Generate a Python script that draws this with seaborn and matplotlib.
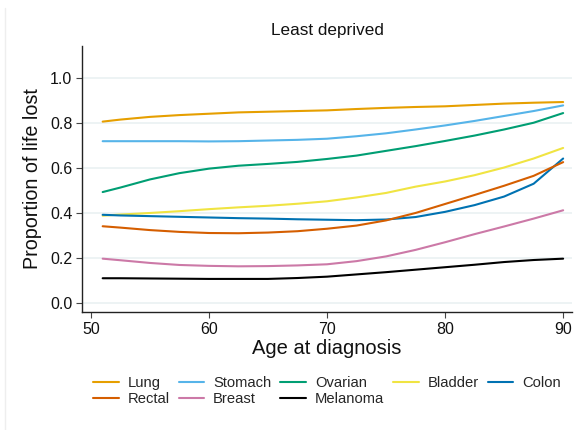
import matplotlib
matplotlib.use("Agg")
import matplotlib.pyplot as plt
import seaborn as sns
import pandas as pd
from matplotlib.lines import Line2D

ages = [51, 52.5, 55, 57.5, 60, 62.5, 65, 67.5, 70, 72.5, 75, 77.5, 80,
        82.5, 85, 87.5, 90]

lung     = [0.806, 0.815, 0.827, 0.835, 0.841, 0.847, 0.850, 0.853, 0.856,
            0.862, 0.867, 0.871, 0.874, 0.880, 0.886, 0.890, 0.893]
stomach  = [0.719, 0.719, 0.719, 0.719, 0.718, 0.719, 0.722, 0.725, 0.730,
            0.741, 0.754, 0.771, 0.789, 0.809, 0.831, 0.853, 0.878]
ovarian  = [0.493, 0.513, 0.549, 0.577, 0.597, 0.610, 0.618, 0.627, 0.640,
            0.655, 0.676, 0.697, 0.720, 0.744, 0.771, 0.801, 0.844]
bladder  = [0.388, 0.393, 0.400, 0.408, 0.417, 0.425, 0.432, 0.441, 0.452,
            0.469, 0.489, 0.517, 0.540, 0.568, 0.602, 0.642, 0.689]
colon    = [0.392, 0.389, 0.386, 0.383, 0.380, 0.377, 0.375, 0.372, 0.370,
            0.368, 0.371, 0.382, 0.405, 0.435, 0.473, 0.530, 0.642]
rectal   = [0.341, 0.335, 0.324, 0.316, 0.311, 0.310, 0.313, 0.319, 0.330,
            0.344, 0.367, 0.400, 0.440, 0.480, 0.521, 0.565, 0.626]
breast   = [0.197, 0.190, 0.178, 0.169, 0.165, 0.163, 0.164, 0.167, 0.172,
            0.186, 0.207, 0.236, 0.270, 0.306, 0.340, 0.375, 0.412]
melanoma = [0.110, 0.110, 0.109, 0.108, 0.107, 0.107, 0.107, 0.111, 0.117,
            0.127, 0.137, 0.148, 0.159, 0.170, 0.182, 0.191, 0.197]

cancers = ["Lung", "Stomach", "Ovarian", "Bladder", "Colon",
           "Rectal", "Breast", "Melanoma"]
series = [lung, stomach, ovarian, bladder, colon, rectal, breast, melanoma]
colors = ["#E69F00", "#56B4E9", "#009E73", "#F0E442", "#0072B2",
          "#D55E00", "#CC79A7", "#000000"]

title = "Least deprived"
xlabel = "Age at diagnosis"
ylabel = "Proportion of life lost"
xticks = [50, 60, 70, 80, 90]
yticks = [0.0, 0.2, 0.4, 0.6, 0.8, 1.0]

rows = []
for name, vals in zip(cancers, series):
    for a, v in zip(ages, vals):
        rows.append({"age": a, "value": v, "cancer": name})
df = pd.DataFrame(rows)

sns.set_theme(style="white")
plt.rcParams["font.family"] = ["Liberation Sans", "DejaVu Sans"]

fig = plt.figure(figsize=(5.85, 4.30), dpi=100)
ax = fig.add_axes([82/585, 1 - 312/430, (572-82)/585, (312-46)/430])

palette = dict(zip(cancers, colors))
sns.lineplot(data=df, x="age", y="value", hue="cancer", hue_order=cancers,
             palette=palette, linewidth=1.5, ax=ax, legend=False)

ax.set_xlim(49.25, 90.75)
ax.set_ylim(-0.04, 1.142)
ax.set_xticks(xticks)
ax.set_yticks(yticks)
ax.set_yticklabels([f"{t:.1f}" for t in yticks])
ax.yaxis.grid(True, color="#EAF1F2", linewidth=1.2)
ax.set_axisbelow(True)
for s in ["top", "right"]:
    ax.spines[s].set_visible(False)
for s in ["left", "bottom"]:
    ax.spines[s].set_color("#222222")
    ax.spines[s].set_linewidth(1.0)
ax.tick_params(axis="both", direction="out", length=4, width=0.8,
               color="#444444", labelsize=11.5, labelcolor="#111111", pad=3,
               left=True, bottom=True)
ax.set_xlabel(xlabel, fontsize=14.5, color="#111111", labelpad=2)
ax.set_ylabel(ylabel, fontsize=14.2, color="#111111", labelpad=6)
ax.set_title(title, fontsize=12.3, color="#111111", pad=8)

# legend in row-major order (matplotlib fills column-major)
order = ["Lung", "Rectal", "Stomach", "Breast", "Ovarian", "Melanoma",
         "Bladder", "Colon"]
handles = [Line2D([], [], color=palette[n], linewidth=1.5) for n in order]
fig.legend(handles, order, loc="center", bbox_to_anchor=(327/585, 1 - 391/430),
           ncol=5, frameon=False, fontsize=10.6, handlelength=1.75,
           handletextpad=0.6, columnspacing=0.6, labelspacing=0.12,
           borderpad=0.2)

fig.add_artist(Line2D([5/585, 5/585], [0, 1 - 8/430], color="#EEEEEE",
                      linewidth=1.0, transform=fig.transFigure))

fig.savefig("out.png", dpi=100)
